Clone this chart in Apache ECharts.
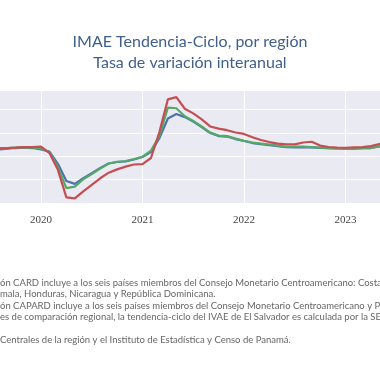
<!DOCTYPE html>
<html><head><meta charset="utf-8">
<script src="https://cdn.jsdelivr.net/npm/echarts@6/dist/echarts.min.js"></script>
<style>html,body{margin:0;padding:0;background:#fff}#c{width:380px;height:380px}</style>
</head><body><div id="c"></div>
<script>
var months = ["2019-07","2019-08","2019-09","2019-10","2019-11","2019-12",
"2020-01","2020-02","2020-03","2020-04","2020-05","2020-06","2020-07","2020-08","2020-09","2020-10","2020-11","2020-12",
"2021-01","2021-02","2021-03","2021-04","2021-05","2021-06","2021-07","2021-08","2021-09","2021-10","2021-11","2021-12",
"2022-01","2022-02","2022-03","2022-04","2022-05","2022-06","2022-07","2022-08","2022-09","2022-10","2022-11","2022-12",
"2023-01","2023-02","2023-03","2023-04","2023-05","2023-06"];
var seriesBlue = [1.35,1.46,1.67,1.78,1.88,1.78,1.46,1.03,-1.6,-5.3,-5.9,-4.7,-3.6,-2.5,-1.54,-1.22,-1.11,-0.69,
-0.15,0.92,3.9,8.1,9.06,8.4,7.45,6.27,5.0,4.35,4.24,3.7,
3.28,2.85,2.63,2.42,2.2,1.95,1.93,1.99,1.93,1.82,1.73,1.71,
1.67,1.67,1.73,1.78,2.1,2.42];
var seriesGreen = [1.46,1.67,1.78,1.88,1.93,1.88,1.67,0.92,-2.3,-6.8,-6.5,-4.9,-3.8,-2.6,-1.54,-1.16,-1.0,-0.58,
-0.09,1.24,4.35,10.45,10.3,8.6,7.6,6.4,5.1,4.45,4.35,3.8,
3.34,2.96,2.74,2.53,2.31,2.03,2.06,2.1,1.99,1.88,1.78,1.71,
1.63,1.67,1.73,1.78,2.1,2.42];
var seriesRed = [1.46,1.67,1.78,1.88,1.99,1.99,2.1,0.7,-2.9,-8.8,-9.0,-7.5,-6.1,-4.7,-3.5,-2.8,-2.2,-1.75,
-1.65,-0.36,5.2,12.2,12.7,10.2,9.2,7.9,6.4,5.95,5.6,5.1,
4.8,4.1,3.5,3.06,2.74,2.57,2.57,2.96,3.13,2.31,2.0,1.88,
1.84,1.93,1.99,2.2,2.63,2.95];
var seriesNames = ["CARD","CAPARD","El Salvador"];
var titleLines = ["IMAE Tendencia-Ciclo, por región","Tasa de variación interanual"];
var notes = [
 "ón CARD incluye a los seis países miembros del Consejo Monetario Centroamericano: Costa Rica, El Salvador, Guate-",
 "mala, Honduras, Nicaragua y República Dominicana.",
 "ón CAPARD incluye a los seis países miembros del Consejo Monetario Centroamericano y Panamá.",
 "es de comparación regional, la tendencia-ciclo del IVAE de El Salvador es calculada por la SECMCA.",
 "Centrales de la región y el Instituto de Estadística y Censo de Panamá."
];
var noteY = [283, 293.5, 306, 317, 340];

var chart = echarts.init(document.getElementById('c'), null, {renderer:'canvas'});
var graphics = [];
titleLines.forEach(function(t,i){
  graphics.push({type:'text', left:'center', top: 34 + i*21,
    style:{text:t, fill:'#3f5f8c', font:'16px Lato', textAlign:'center'}});
});
notes.forEach(function(t,i){
  graphics.push({type:'text', x:0, y:noteY[i],
    style:{text:t, fill:'#666', font:'9.5px Lato', textVerticalAlign:'middle'}});
});
function isJan(v){ return /-01$/.test(v); }
chart.setOption({
  animation:false,
  backgroundColor:'#fff',
  grid:{left:-9.75, right:-7.8, top:91, bottom:177, show:true, backgroundColor:'#eaeaf2', borderWidth:0,
    outerBoundsMode:'none', containLabel:false},
  xAxis:{type:'category', data:months, boundaryGap:false,
    axisLine:{show:false}, axisTick:{show:false},
    axisLabel:{interval:0, margin:12, color:'#444', fontSize:11, fontFamily:'Liberation Sans Narrow',
      formatter:function(v){ return isJan(v) ? v.slice(0,4) : ''; }},
    splitLine:{show:true, interval:function(i,v){ return isJan(v); }, lineStyle:{color:'#fff', width:1}}
  },
  yAxis:{type:'value', min:-10, max:14, interval:5,
    axisLine:{show:false}, axisTick:{show:false}, axisLabel:{show:false},
    splitLine:{show:true, showMaxLine:false, lineStyle:{color:'#fff', width:1}}
  },
  series:[
    {name:seriesNames[0], type:'line', data:seriesBlue, showSymbol:false, lineStyle:{color:'#4c72b0', width:2.2}, itemStyle:{color:'#4c72b0'}},
    {name:seriesNames[1], type:'line', data:seriesGreen, showSymbol:false, lineStyle:{color:'#55a868', width:2.2}, itemStyle:{color:'#55a868'}},
    {name:seriesNames[2], type:'line', data:seriesRed, showSymbol:false, lineStyle:{color:'#c44e52', width:2.2}, itemStyle:{color:'#c44e52'}}
  ],
  graphic:graphics
});
</script></body></html>
